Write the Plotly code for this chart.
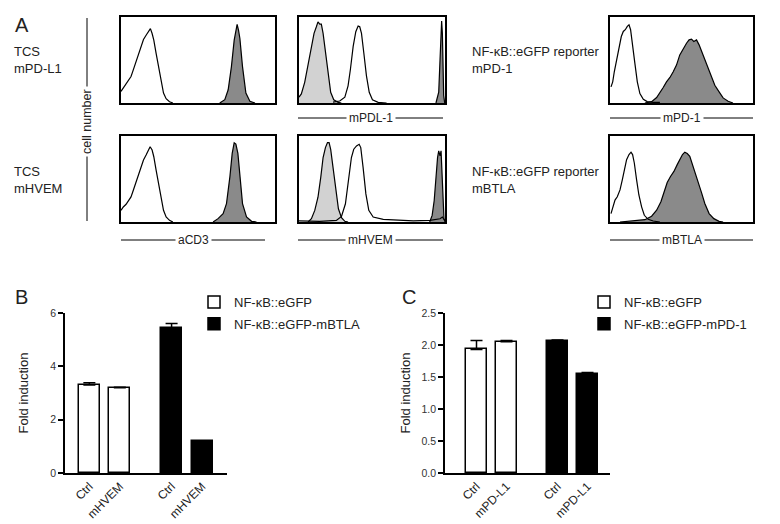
import plotly.graph_objects as go

W, H = 780, 524
FONT = "Liberation Sans, Arial, sans-serif"
def px(x): return x / W
def py(y): return 1 - y / H

# ---------------- Panel A: flow-cytometry histograms (x, y in % of plot box) ----------------
# aCD3 / TCS mPD-L1
acd3_top_open_x = [0, 1.5, 3.3, 5, 6.5, 7.6, 8.7, 10.2, 11.5, 13, 14.6, 16.3, 17.8, 19.1, 20.2, 21.3, 22.8, 24.6, 26.1, 27.6, 29.3, 31.5, 33.7]
acd3_top_open_y = [13.5, 17.3, 21.2, 26.9, 30.8, 36.5, 42.3, 48.1, 55.8, 65.4, 73.8, 78.8, 82.7, 86.5, 80.8, 73.1, 57.7, 38.5, 23.1, 11.5, 5, 1.5, 0]
acd3_top_fill_x = [64.1, 67.4, 69.6, 71.7, 73.5, 74.6, 75.4, 76.3, 77.2, 78.9, 81.1, 83.7, 87]
acd3_top_fill_y = [0, 3.8, 15.4, 42.3, 73.1, 86.5, 91.5, 84.6, 75, 42.3, 11.5, 1.9, 0]
# aCD3 / TCS mHVEM
acd3_bot_open_x = [0, 1.5, 3.3, 5, 6.5, 8, 9.8, 11.5, 13, 14.6, 16.3, 17.8, 18.9, 20.2, 21.3, 22.8, 24.6, 26.1, 27.6, 29.3, 31.5, 33.7]
acd3_bot_open_y = [13.6, 17.5, 20.6, 25.3, 29.2, 37, 46.7, 56.4, 64.2, 72, 77.8, 83.7, 87.5, 83.7, 75.9, 60.3, 40.9, 25.3, 13.6, 5.8, 1.9, 0]
acd3_bot_fill_x = [59.8, 63, 66.3, 68.5, 70.7, 72.2, 73.5, 74.6, 75.9, 77.2, 78.9, 81.5, 84.8, 88]
acd3_bot_fill_y = [0, 3.9, 9.7, 21.4, 52.5, 79.8, 92.2, 90.7, 79.8, 52.5, 21.4, 5.8, 0.8, 0]
# mPDL-1
pdl1_light_x = [0, 1.6, 3.9, 6.2, 8.5, 10.3, 11.9, 13, 14.2, 15.3, 16.5, 18.1, 19.9, 21.7, 23.8, 26.8, 29]
pdl1_light_y = [6.8, 10.6, 24, 43, 65.8, 81, 88.6, 94.3, 91.6, 91.6, 81, 58.2, 31.6, 12.5, 3.8, 0.8, 0]
pdl1_open_x = [23.3, 27.9, 31.4, 33.6, 35.2, 37.1, 38.9, 40.5, 41.6, 42.8, 44.4, 46.2, 48.1, 50.3, 54.2, 60]
pdl1_open_y = [1.1, 2.3, 6.8, 20, 39, 65.8, 82.9, 89.4, 88.6, 81, 58.2, 31.6, 12.5, 3.8, 0.8, 0]
pdl1_dark_x = [93.8, 95.7, 96.6, 97.3, 97.7, 98.2, 98.6, 99.1, 99.8]
pdl1_dark_y = [0, 12.5, 50.6, 81, 95.4, 81, 43, 8.7, 0]
# mHVEM
hvem_light_x = [6.2, 8.5, 10.8, 13, 14.9, 16.5, 18.1, 19.5, 20.6, 21.7, 23.3, 25.1, 27, 29.1, 31.4, 33.6]
hvem_light_y = [0, 3.8, 13.5, 28.8, 51.9, 75, 86.5, 92.3, 92.3, 84.6, 63.5, 36.5, 15.4, 5, 0.8, 0]
hvem_open_x = [0, 14.2, 25.6, 29.1, 31.8, 34.1, 35.9, 37.5, 39.4, 41.2, 42.3, 43.9, 45.8, 47.8, 50.8, 57.7, 66.8, 78.3, 89.7, 94.3, 96.6, 98.2, 99.8]
hvem_open_y = [1.2, 0.8, 1.9, 6.5, 21.2, 48.1, 75, 84.6, 88.5, 90.4, 86.5, 63.5, 32.7, 13.5, 5.8, 3.1, 1.9, 1.2, 1.9, 3.1, 3.8, 5.8, 1.9]
hvem_dark_x = [89.5, 91.2, 92.6, 93.8, 94.9, 95.7, 96.6, 97.3, 98, 98.6, 99.3, 100]
hvem_dark_y = [0, 7.7, 25, 55.8, 75, 82.7, 76.9, 82.7, 55.8, 21.2, 3.8, 0]
# mPD-1 reporter
pd1_open_x = [0.7, 1.9, 3, 4.7, 6.3, 7.9, 9.3, 10.7, 12.1, 13.3, 14.4, 15.8, 17.4, 19.1, 20.9, 23.3, 26, 30.2, 34.9]
pd1_open_y = [18.8, 24.6, 36.3, 52, 65.6, 77.3, 83.2, 85.2, 89.1, 91, 85.2, 69.5, 46.1, 24.6, 10.9, 4.3, 1.6, 0.8, 0.8]
pd1_fill_x = [24.4, 29.1, 32.6, 34.9, 37.2, 39.5, 41.9, 44.2, 46.5, 48.8, 51.2, 53.5, 55.3, 57, 58.6, 60.5, 62.3, 64.7, 67.4, 70.2, 73.3, 76.3, 79.1, 82.6, 86]
pd1_fill_y = [0, 1.6, 6.3, 11.7, 18, 24.6, 29.7, 36.3, 44.1, 55.9, 63.7, 69.5, 73.4, 74.2, 71.5, 73.4, 67.6, 57.8, 46.1, 34.4, 20.7, 12.9, 5.9, 2, 0]
# mBTLA reporter
btla_open_x = [0.7, 1.9, 3.5, 5.1, 7, 8.6, 10.2, 11.6, 13.3, 14.7, 15.8, 17, 18.6, 20.2, 22.1, 24, 26.7, 30.2, 34.9]
btla_open_y = [9.8, 17.6, 25.5, 29.4, 37.3, 49, 62.7, 72.5, 78.4, 81.2, 78.4, 68.6, 49, 31.4, 17.6, 7.8, 3.1, 1.2, 0]
btla_fill_x = [7, 16.3, 24.4, 29.1, 32.6, 35.6, 37.7, 40, 42.3, 44.7, 47, 48.8, 50.7, 52.3, 54, 55.8, 57.7, 59.3, 61.6, 64, 66.3, 69.3, 72.6, 76.3, 79.1]
btla_fill_y = [0, 1.2, 2.7, 6.7, 13.7, 23.5, 33.3, 45.9, 52.9, 58.8, 66.7, 73.3, 78.4, 81.2, 79.6, 76.5, 66.7, 58.8, 49, 34.1, 21.6, 9.8, 3.9, 0.8, 0]

# ---------------- Panel B / C: bar charts ----------------
b_labels = ["Ctrl", "mHVEM"]
b_series = ["NF-κB::eGFP", "NF-κB::eGFP-mBTLA"]
b_ctrl_vals = [3.30, 3.20]
b_ctrl_err = [0.08, 0.02]
b_btla_vals = [5.43, 1.19]
b_btla_err = [0.18, 0.02]
b_yticks = [0, 2, 4, 6]

c_labels = ["Ctrl", "mPD-L1"]
c_series = ["NF-κB::eGFP", "NF-κB::eGFP-mPD-1"]
c_ctrl_vals = [1.93, 2.05]
c_ctrl_err = [0.14, 0.02]
c_pd1_vals = [2.07, 1.55]
c_pd1_err = [0.01, 0.02]
c_yticks = [0, 0.5, 1.0, 1.5, 2.0, 2.5]

DARK = "#8a8a8a"
LIGHT = "#d2d2d2"

fig = go.Figure()

def ax(i):
    return ("" if i == 1 else str(i))

def add_fill(i, xs, ys, color):
    fig.add_trace(go.Scatter(x=xs, y=ys, mode="lines", fill="tozeroy", fillcolor=color,
                             line=dict(color="black", width=1.2), showlegend=False, hoverinfo="skip",
                             xaxis="x" + ax(i), yaxis="y" + ax(i)))

def add_open(i, xs, ys):
    fig.add_trace(go.Scatter(x=xs, y=ys, mode="lines", line=dict(color="black", width=1.2),
                             showlegend=False, hoverinfo="skip", xaxis="x" + ax(i), yaxis="y" + ax(i)))

add_fill(1, acd3_top_fill_x, acd3_top_fill_y, DARK)
add_open(1, acd3_top_open_x, acd3_top_open_y)
add_fill(2, pdl1_light_x, pdl1_light_y, LIGHT)
add_fill(2, pdl1_dark_x, pdl1_dark_y, DARK)
add_open(2, pdl1_open_x, pdl1_open_y)
add_fill(3, pd1_fill_x, pd1_fill_y, DARK)
add_open(3, pd1_open_x, pd1_open_y)
add_fill(4, acd3_bot_fill_x, acd3_bot_fill_y, DARK)
add_open(4, acd3_bot_open_x, acd3_bot_open_y)
add_fill(5, hvem_light_x, hvem_light_y, LIGHT)
add_fill(5, hvem_dark_x, hvem_dark_y, DARK)
add_open(5, hvem_open_x, hvem_open_y)
add_fill(6, btla_fill_x, btla_fill_y, DARK)
add_open(6, btla_open_x, btla_open_y)

hist_boxes = {1: (121, 275, 17, 103), 2: (299, 445, 17, 103), 3: (610, 753, 17, 103),
              4: (121, 275, 136, 222), 5: (299, 445, 136, 222), 6: (610, 753, 136, 222)}
layout_axes = {}
for i, (x0, x1, y0, y1) in hist_boxes.items():
    common = dict(showline=True, mirror=True, linecolor="black", linewidth=1.6, showticklabels=False,
                  ticks="", showgrid=False, zeroline=False, range=[0, 100], fixedrange=True,
                  automargin=False)
    layout_axes["xaxis" + ax(i)] = dict(domain=[px(x0), px(x1)], anchor="y" + ax(i), **common)
    layout_axes["yaxis" + ax(i)] = dict(domain=[py(y1), py(y0)], anchor="x" + ax(i), **common)

# bar positions: two groups of two, gap between groups
GROUP_GAP = 1.7
def positions(ngroup, nper):
    return [[1 + j + g * (nper - 1 + GROUP_GAP) for j in range(nper)] for g in range(ngroup)]

b_pos = positions(2, 2)
c_pos = positions(2, 2)

def add_bars(i, xs, ys, errs, name, fill, legend):
    fig.add_trace(go.Bar(x=xs, y=ys, name=name, width=0.69, marker=dict(color=fill, line=dict(color="black", width=1.5)),
                         error_y=dict(type="data", symmetric=False, array=errs, arrayminus=[0] * len(errs),
                                      color="black", thickness=1.5, width=6),
                         xaxis="x" + ax(i), yaxis="y" + ax(i), legend=legend, legendgroup=name + legend,
                         hoverinfo="skip"))

add_bars(7, b_pos[0], b_ctrl_vals, b_ctrl_err, b_series[0], "white", "legend")
add_bars(7, b_pos[1], b_btla_vals, b_btla_err, b_series[1], "black", "legend")
add_bars(8, c_pos[0], c_ctrl_vals, c_ctrl_err, c_series[0], "white", "legend2")
add_bars(8, c_pos[1], c_pd1_vals, c_pd1_err, c_series[1], "black", "legend2")

def bar_axes(i, x0, x1, xr, pos, labels, yticks, yfmt, ymax, standoff):
    layout_axes["xaxis" + ax(i)] = dict(domain=[px(x0), px(x1)], anchor="y" + ax(i), range=xr,
                                        showline=True, linecolor="black", linewidth=1.5, ticks="",
                                        tickvals=pos[0] + pos[1], ticktext=labels + labels, tickangle=-45,
                                        tickfont=dict(size=12, color="#222"), showgrid=False, zeroline=False,
                                        automargin=False)
    layout_axes["yaxis" + ax(i)] = dict(domain=[py(473), py(313)], anchor="x" + ax(i), range=[0, ymax],
                                        showline=True, linecolor="black", linewidth=1.5, ticks="outside",
                                        ticklen=5, tickwidth=1.5, tickcolor="black", tickvals=yticks,
                                        tickformat=yfmt, tickfont=dict(size=10.5, color="#333"),
                                        showgrid=False, zeroline=False, automargin=False,
                                        title=dict(text="Fold induction", font=dict(size=13, color="#222"), standoff=standoff))

bar_axes(7, 65, 227, [0.2, 5.52], b_pos, b_labels, b_yticks, "d", 6, 19)
bar_axes(8, 445, 610, [-0.05, 5.45], c_pos, c_labels, c_yticks, ".1f", 2.5, 8)

annotations = []
def text(x, y, s, size=13, xanchor="left", **kw):
    annotations.append(dict(x=px(x), y=py(y), xref="paper", yref="paper", text=s, showarrow=False,
                            xanchor=xanchor, yanchor="middle", align="left",
                            font=dict(size=size, color="#222", family=FONT), **kw))

text(13, 25, "A", size=20)
text(13, 297, "B", size=20)
text(400, 297, "C", size=20)
text(12, 60, "TCS<br>mPD-L1")
text(12, 180, "TCS<br>mHVEM")
text(470, 60, "NF-κB::eGFP reporter<br>mPD-1")
text(470, 180, "NF-κB::eGFP reporter<br>mBTLA")

shapes = []
def label_line(x0, x1, y, s):
    shapes.append(dict(type="line", xref="paper", yref="paper", x0=px(x0), x1=px(x1), y0=py(y), y1=py(y),
                       line=dict(color="black", width=1)))
    text((x0 + x1) / 2, y, s, size=12, xanchor="center", bgcolor="white", borderpad=2)

label_line(298, 443, 118, "mPDL-1")
label_line(610, 753, 118, "mPD-1")
label_line(121, 265, 240, "aCD3")
label_line(298, 443, 240, "mHVEM")
label_line(610, 753, 240, "mBTLA")

shapes.append(dict(type="line", xref="paper", yref="paper", x0=px(87), x1=px(87), y0=py(18), y1=py(221),
                   line=dict(color="black", width=1)))
text(87, 122, "cell number", size=12.5, xanchor="center", textangle=-90, bgcolor="white", borderpad=2)

legend_common = dict(xanchor="left", yanchor="top", bgcolor="rgba(0,0,0,0)", borderwidth=0,
                     font=dict(size=13, color="#222", family=FONT), tracegroupgap=2, itemclick=False)

fig.update_layout(
    template="none",
    width=W, height=H, margin=dict(l=0, r=0, t=0, b=0, autoexpand=False),
    paper_bgcolor="white", plot_bgcolor="white",
    font=dict(family=FONT, color="#222"),
    annotations=annotations, shapes=shapes,
    legend=dict(x=px(194), y=py(287), **legend_common),
    legend2=dict(x=px(584), y=py(287), **legend_common),
    bargap=0, **layout_axes,
)

fig.write_html("out.html", config={"displayModeBar": False},
               post_script="document.body.style.margin='0';document.body.style.overflow='hidden';")
